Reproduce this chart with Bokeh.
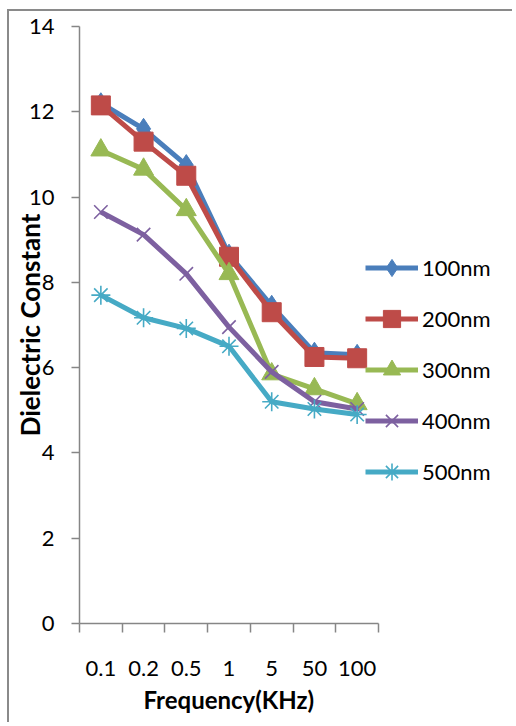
import math
from bokeh.plotting import figure
from bokeh.models import (Range1d, LinearAxis, FixedTicker, Legend, LegendItem,
                          CustomLabelingPolicy, Title)
from bokeh.embed import file_html
from bokeh.resources import INLINE

frequencies = ["0.1", "0.2", "0.5", "1", "5", "50", "100"]
series_names = ["100nm", "200nm", "300nm", "400nm", "500nm"]
d100 = [12.2, 11.6, 10.75, 8.65, 7.45, 6.35, 6.3]
d200 = [12.15, 11.3, 10.5, 8.6, 7.3, 6.25, 6.22]
d300 = [11.1, 10.65, 9.7, 8.2, 5.85, 5.5, 5.15]
d400 = [9.65, 9.12, 8.2, 6.95, 5.9, 5.2, 5.03]
d500 = [7.7, 7.17, 6.92, 6.5, 5.2, 5.03, 4.9]
y_ticks = [0, 2, 4, 6, 8, 10, 12, 14]

series_values = [d100, d200, d300, d400, d500]
colors = ["#4A7EBB", "#BE4B48", "#98B954", "#7D60A0", "#46AAC5"]
markers = ["diamond", "square", "triangle", "x", "asterisk"]
sizes = [21, 19, 20, 19, 19]

FONT = "Lato"
AXIS_GRAY = "#868686"

# category slots: category i is centred at i + 0.5 on the x scale
n_cat = len(frequencies)
x_pos = [i + 0.5 for i in range(n_cat)]

W, H = 505, 713
LEFT, TOP, BOTTOM = 70, 15, 101
DATA_WIDTH_PX = 299          # width of the plotted category area
frame_w = W - LEFT
x_end = n_cat * frame_w / DATA_WIDTH_PX

p = figure(width=W, height=H,
           x_range=Range1d(0, x_end), y_range=Range1d(0, 14),
           output_backend="svg", toolbar_location=None,
           x_axis_location=None, y_axis_location=None,
           min_border_left=LEFT, min_border_right=0,
           min_border_top=TOP, min_border_bottom=BOTTOM)
p.outline_line_color = None
p.background_fill_color = "white"
p.border_fill_color = "white"
p.styles = {"margin-left": "7px", "margin-top": "9px",
            "border-left": "2px solid #8a8a8a", "border-top": "2px solid #8a8a8a"}

# y axis
yaxis = LinearAxis(ticker=FixedTicker(ticks=y_ticks, minor_ticks=[]),
                   axis_label="Dielectric Constant")
yaxis.axis_line_color = AXIS_GRAY
yaxis.axis_line_width = 1.5
yaxis.major_tick_line_color = AXIS_GRAY
yaxis.major_tick_line_width = 1.5
yaxis.major_tick_out = 8
yaxis.major_tick_in = 0
yaxis.minor_tick_out = 0
yaxis.minor_tick_in = 0
yaxis.major_label_standoff = 17
yaxis.major_label_text_font = FONT
yaxis.major_label_text_font_size = "22px"
yaxis.major_label_text_color = "black"
yaxis.axis_label_text_font = FONT
yaxis.axis_label_text_font_size = "26px"
yaxis.axis_label_text_font_style = "bold"
yaxis.axis_label_text_color = "black"
yaxis.axis_label_standoff = -20
p.add_layout(yaxis, "left")

# x axis: tick marks at category boundaries
bound_axis = LinearAxis(ticker=FixedTicker(ticks=list(range(n_cat + 1)), minor_ticks=[]),
                        bounds=(0, n_cat))
bound_axis.axis_line_color = AXIS_GRAY
bound_axis.axis_line_width = 1.5
bound_axis.major_tick_line_color = AXIS_GRAY
bound_axis.major_tick_line_width = 1.5
bound_axis.major_tick_out = 9
bound_axis.major_tick_in = 0
bound_axis.minor_tick_out = 0
bound_axis.minor_tick_in = 0
bound_axis.major_label_text_font_size = "0px"
bound_axis.major_label_standoff = 0
bound_axis.major_label_policy = CustomLabelingPolicy(
    code="for (const i of [...indices]) { indices.unset(i) }\nreturn indices")
p.add_layout(bound_axis, "below")

# x axis: category labels
cat_axis = LinearAxis(ticker=FixedTicker(ticks=x_pos, minor_ticks=[]), bounds=(0, n_cat))
cat_axis.major_label_overrides = {x: f for x, f in zip(x_pos, frequencies)}
cat_axis.axis_line_color = None
cat_axis.major_tick_line_color = None
cat_axis.major_tick_out = 0
cat_axis.major_tick_in = 0
cat_axis.minor_tick_out = 0
cat_axis.minor_tick_in = 0
cat_axis.major_label_standoff = 28
cat_axis.major_label_text_font = FONT
cat_axis.major_label_text_font_size = "22px"
cat_axis.major_label_text_color = "black"
p.add_layout(cat_axis, "below")

# x axis title, centred under the category area
x_title = Title(text="Frequency(KHz)", align="left", offset=64, standoff=8,
                text_font=FONT, text_font_size="24px", text_font_style="bold",
                text_color="black")
p.add_layout(x_title, "below")

p.grid.visible = False

items = []
for name, vals, col, mk, sz in zip(series_names, series_values, colors, markers, sizes):
    ln = p.line(x_pos, vals, line_color=col, line_width=5)
    if mk in ("x", "asterisk"):
        sc = p.scatter(x_pos, vals, marker=mk, size=sz, line_color=col, line_width=1.6)
    else:
        sc = p.scatter(x_pos, vals, marker=mk, size=sz,
                       fill_color=col, line_color=col, line_width=1)
    items.append(LegendItem(label=name, renderers=[ln, sc]))

legend = Legend(items=items, location=(286, 130))
legend.background_fill_alpha = 0
legend.border_line_color = None
legend.padding = 0
legend.margin = 0
legend.glyph_width = 53
legend.glyph_height = 43
legend.label_height = 43
legend.spacing = 8
legend.label_standoff = 4
legend.label_text_font = FONT
legend.label_text_font_size = "22px"
legend.label_text_color = "black"
legend.label_text_baseline = "middle"
p.add_layout(legend, "center")

open("out.html", "w").write(file_html(p, INLINE))
